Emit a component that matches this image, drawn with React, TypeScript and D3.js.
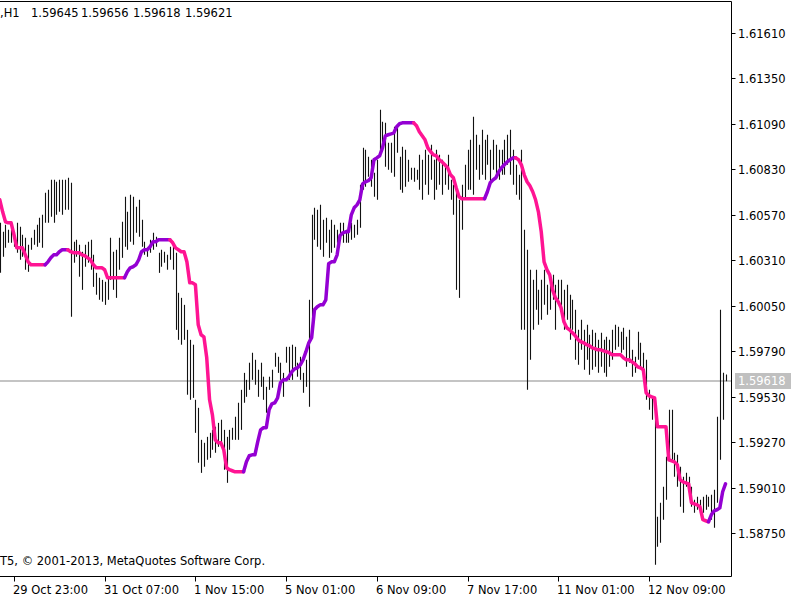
import React from 'react';
import * as d3 from 'd3';

// Bar highs (H1 bars, oldest -> newest)
const highs: number[] = [
  1.60524, 1.60473, 1.60513, 1.60484, 1.60484, 1.60473, 1.60524, 1.60502, 1.60456, 1.60439,
  1.60399, 1.60439, 1.60484, 1.60513, 1.60553, 1.60570, 1.60696, 1.60713, 1.60770, 1.60770,
  1.60759, 1.60770, 1.60770, 1.60770, 1.60782, 1.60753, 1.60416, 1.60427, 1.60399, 1.60359,
  1.60399, 1.60416, 1.60427, 1.60341, 1.60238, 1.60210, 1.60198, 1.60187, 1.60216, 1.60439,
  1.60359, 1.60370, 1.60439, 1.60530, 1.60673, 1.60587, 1.60685, 1.60673, 1.60616, 1.60656,
  1.60542, 1.60416, 1.60381, 1.60427, 1.60467, 1.60444, 1.60353, 1.60370, 1.60359, 1.60341,
  1.60387, 1.60399, 1.60353, 1.60124, 1.60095, 1.60055, 1.59912, 1.59855, 1.59827, 1.59512,
  1.59466, 1.59283, 1.59266, 1.59300, 1.59323, 1.59340, 1.59358, 1.59380, 1.59398, 1.59340,
  1.59300, 1.59340, 1.59352, 1.59415, 1.59495, 1.59569, 1.59666, 1.59626, 1.59724, 1.59781,
  1.59741, 1.59684, 1.59724, 1.59644, 1.59586, 1.59644, 1.59684, 1.59781, 1.59758, 1.59724,
  1.59666, 1.59815, 1.59815, 1.59827, 1.59815, 1.59724, 1.59758, 1.59666, 1.59741, 1.60084,
  1.60570, 1.60610, 1.60599, 1.60627, 1.60542, 1.60553, 1.60484, 1.60542, 1.60513, 1.60484,
  1.60524, 1.60524, 1.60484, 1.60502, 1.60524, 1.60513, 1.60542, 1.60742, 1.60953, 1.60942,
  1.60902, 1.60885, 1.60810, 1.60885, 1.61171, 1.61102, 1.61096, 1.60982, 1.60982, 1.61074,
  1.61074, 1.60902, 1.60959, 1.60942, 1.60885, 1.60839, 1.60839, 1.60828, 1.60913, 1.60885,
  1.60942, 1.60913, 1.60971, 1.60885, 1.60942, 1.60913, 1.60885, 1.60856, 1.60913, 1.60770,
  1.60742, 1.60713, 1.60656, 1.60742, 1.60856, 1.60942, 1.60999, 1.61131, 1.61028, 1.60971,
  1.61056, 1.60999, 1.61028, 1.60942, 1.60999, 1.60971, 1.60942, 1.60942, 1.60999, 1.61028,
  1.61056, 1.60942, 1.60856, 1.60799, 1.60942, 1.60484, 1.60370, 1.60256, 1.60198, 1.60256,
  1.60141, 1.60198, 1.60256, 1.60170, 1.60198, 1.60227, 1.60170, 1.60198, 1.60198, 1.60141,
  1.60170, 1.60113, 1.60084, 1.60027, 1.59912, 1.59970, 1.59912, 1.59941, 1.59884, 1.59912,
  1.59895, 1.59855, 1.59895, 1.59855, 1.59872, 1.59855, 1.59912, 1.59941, 1.59930, 1.59901,
  1.59924, 1.59872, 1.59912, 1.59798, 1.59758, 1.59901, 1.59838, 1.59781, 1.59741, 1.59569,
  1.59529, 1.59512, 1.58843, 1.58923, 1.59014, 1.59186, 1.59455, 1.59455, 1.59209, 1.59197,
  1.59129, 1.59072, 1.59094, 1.59072, 1.59014, 1.58940, 1.58957, 1.58940, 1.58957, 1.58969,
  1.58957, 1.58969, 1.58997, 1.59415, 1.60027, 1.59666, 1.59656,
];

// Bar lows
const lows: number[] = [
  1.60238, 1.60330, 1.60381, 1.60410, 1.60410, 1.60387, 1.60353, 1.60313, 1.60330, 1.60256,
  1.60244, 1.60370, 1.60399, 1.60387, 1.60410, 1.60381, 1.60524, 1.60524, 1.60559, 1.60524,
  1.60570, 1.60587, 1.60570, 1.60599, 1.60599, 1.59987, 1.60296, 1.60330, 1.60216, 1.60141,
  1.60273, 1.60296, 1.60256, 1.60158, 1.60113, 1.60084, 1.60073, 1.60055, 1.60084, 1.60198,
  1.60141, 1.60095, 1.60256, 1.60324, 1.60387, 1.60370, 1.60416, 1.60399, 1.60467, 1.60444,
  1.60387, 1.60341, 1.60330, 1.60353, 1.60370, 1.60387, 1.60238, 1.60273, 1.60296, 1.60256,
  1.60313, 1.60256, 1.59912, 1.59855, 1.59827, 1.59855, 1.59541, 1.59512, 1.59523, 1.59323,
  1.59152, 1.59094, 1.59129, 1.59169, 1.59180, 1.59226, 1.59209, 1.59243, 1.59266, 1.59112,
  1.59037, 1.59226, 1.59283, 1.59283, 1.59283, 1.59340, 1.59495, 1.59529, 1.59569, 1.59626,
  1.59598, 1.59529, 1.59586, 1.59512, 1.59438, 1.59569, 1.59581, 1.59701, 1.59666, 1.59626,
  1.59529, 1.59724, 1.59626, 1.59626, 1.59701, 1.59644, 1.59626, 1.59552, 1.59586, 1.59472,
  1.59970, 1.60427, 1.60387, 1.60370, 1.60330, 1.60410, 1.60324, 1.60353, 1.60381, 1.60410,
  1.60427, 1.60410, 1.60410, 1.60410, 1.60427, 1.60439, 1.60456, 1.60496, 1.60713, 1.60730,
  1.60788, 1.60730, 1.60673, 1.60656, 1.60902, 1.60959, 1.60845, 1.60828, 1.60810, 1.60788,
  1.60925, 1.60713, 1.60696, 1.60730, 1.60759, 1.60770, 1.60759, 1.60770, 1.60713, 1.60656,
  1.60742, 1.60685, 1.60770, 1.60656, 1.60713, 1.60742, 1.60685, 1.60742, 1.60713, 1.60656,
  1.60570, 1.60141, 1.60095, 1.60484, 1.60656, 1.60713, 1.60713, 1.60685, 1.60828, 1.60770,
  1.60799, 1.60770, 1.60856, 1.60742, 1.60828, 1.60799, 1.60770, 1.60799, 1.60799, 1.60856,
  1.60799, 1.60742, 1.60685, 1.60656, 1.59912, 1.59912, 1.59569, 1.59741, 1.59912, 1.60027,
  1.59941, 1.59970, 1.60055, 1.59998, 1.60027, 1.60084, 1.59912, 1.60084, 1.60027, 1.59912,
  1.59970, 1.59855, 1.59912, 1.59741, 1.59712, 1.59798, 1.59684, 1.59741, 1.59655, 1.59684,
  1.59701, 1.59666, 1.59701, 1.59666, 1.59644, 1.59701, 1.59741, 1.59798, 1.59815, 1.59781,
  1.59798, 1.59701, 1.59724, 1.59644, 1.59666, 1.59741, 1.59701, 1.59672, 1.59512, 1.59455,
  1.59398, 1.58568, 1.58671, 1.58694, 1.58826, 1.58940, 1.59186, 1.59169, 1.59072, 1.59014,
  1.58900, 1.58866, 1.59014, 1.58980, 1.58900, 1.58866, 1.58883, 1.58866, 1.58866, 1.58883,
  1.58900, 1.58826, 1.58780, 1.58923, 1.59169, 1.59398, 1.59618,
];

// Indicator line values
const lineValues: number[] = [
  1.60656, 1.60587, 1.60530, 1.60524, 1.60524, 1.60456, 1.60381, 1.60381, 1.60381, 1.60341,
  1.60301, 1.60284, 1.60284, 1.60284, 1.60284, 1.60284, 1.60284, 1.60301, 1.60324, 1.60341,
  1.60341, 1.60359, 1.60370, 1.60370, 1.60370, 1.60359, 1.60353, 1.60353, 1.60353, 1.60341,
  1.60336, 1.60324, 1.60313, 1.60284, 1.60267, 1.60267, 1.60267, 1.60256, 1.60210, 1.60210,
  1.60210, 1.60210, 1.60210, 1.60210, 1.60210, 1.60244, 1.60267, 1.60273, 1.60284, 1.60313,
  1.60359, 1.60370, 1.60370, 1.60387, 1.60416, 1.60416, 1.60427, 1.60427, 1.60427, 1.60427,
  1.60427, 1.60410, 1.60381, 1.60370, 1.60359, 1.60359, 1.60301, 1.60181, 1.60181, 1.60170,
  1.59941, 1.59884, 1.59872, 1.59752, 1.59512, 1.59426, 1.59283, 1.59266, 1.59266, 1.59226,
  1.59123, 1.59112, 1.59106, 1.59100, 1.59100, 1.59100, 1.59100, 1.59157, 1.59192, 1.59197,
  1.59197, 1.59272, 1.59340, 1.59352, 1.59352, 1.59455, 1.59489, 1.59495, 1.59523, 1.59609,
  1.59626, 1.59626, 1.59644, 1.59672, 1.59689, 1.59695, 1.59712, 1.59741, 1.59787, 1.59838,
  1.59867, 1.60027, 1.60044, 1.60055, 1.60055, 1.60084, 1.60290, 1.60301, 1.60301, 1.60341,
  1.60450, 1.60467, 1.60473, 1.60473, 1.60570, 1.60610, 1.60627, 1.60656, 1.60747, 1.60759,
  1.60765, 1.60782, 1.60885, 1.60896, 1.60908, 1.60953, 1.61022, 1.61028, 1.61033, 1.61039,
  1.61074, 1.61091, 1.61096, 1.61096, 1.61096, 1.61096, 1.61096, 1.61079, 1.61045, 1.61022,
  1.60999, 1.60953, 1.60931, 1.60913, 1.60908, 1.60885, 1.60873, 1.60856, 1.60839, 1.60799,
  1.60782, 1.60725, 1.60673, 1.60662, 1.60662, 1.60662, 1.60662, 1.60662, 1.60662, 1.60662,
  1.60662, 1.60662, 1.60702, 1.60753, 1.60770, 1.60782, 1.60816, 1.60839, 1.60856, 1.60873,
  1.60885, 1.60896, 1.60896, 1.60885, 1.60856, 1.60799, 1.60759, 1.60736, 1.60702, 1.60656,
  1.60587, 1.60473, 1.60301, 1.60256, 1.60227, 1.60141, 1.60095, 1.60073, 1.60038, 1.59958,
  1.59924, 1.59912, 1.59895, 1.59878, 1.59855, 1.59844, 1.59838, 1.59827, 1.59821, 1.59809,
  1.59804, 1.59798, 1.59798, 1.59792, 1.59787, 1.59781, 1.59769, 1.59769, 1.59769, 1.59769,
  1.59752, 1.59741, 1.59741, 1.59729, 1.59718, 1.59701, 1.59695, 1.59684, 1.59552, 1.59535,
  1.59529, 1.59523, 1.59358, 1.59358, 1.59358, 1.59358, 1.59169, 1.59163, 1.59157, 1.59140,
  1.59054, 1.59043, 1.59037, 1.59031, 1.58923, 1.58917, 1.58911, 1.58900, 1.58826, 1.58820,
  1.58814, 1.58854, 1.58877, 1.58883, 1.58894, 1.58986, 1.59031,
];

// Colour runs of the indicator line: [first bar, last bar, colour index]
const trendRuns: [number, number, number][] = [
  [0, 16, 0], [17, 24, 1], [25, 44, 0], [45, 60, 1], [61, 86, 0],
  [87, 146, 1], [147, 171, 0], [172, 182, 1], [183, 250, 0], [251, 256, 1],
];
const trendColors = ['#FF1493', '#9400D3'];

const yTicks = [1.6161, 1.6135, 1.6109, 1.6083, 1.6057, 1.6031, 1.6005, 1.5979, 1.5953, 1.5927, 1.5901, 1.5875];
const xTickIndex = [5, 37, 69, 101, 133, 165, 197, 229];
const xTickLabels = ['29 Oct 23:00', '31 Oct 07:00', '1 Nov 15:00', '5 Nov 01:00', '6 Nov 09:00', '7 Nov 17:00', '11 Nov 01:00', '12 Nov 09:00'];
const headerValues = ['1.59645', '1.59656', '1.59618', '1.59621'];
const headerX = [31, 81, 133, 185];
const bidPrice = 1.59618;

const FONT = "'DejaVu Sans', Verdana, sans-serif";
const FS = 11.5;

export default function App() {
  const W = 800;
  const H = 600;
  const plotRight = 731.5;
  const plotTop = 1.5;
  const plotBottom = 576.5;

  const x = d3.scaleLinear().domain([0, highs.length - 1]).range([-0.2, 725.5]);
  const y = d3.scaleLinear().domain([1.5875, 1.6161]).range([533, 33]);

  const line = d3
    .line<number>()
    .x((i) => x(i))
    .y((i) => y(lineValues[i]));

  const bidY = Math.round(y(bidPrice));

  return (
    <div style={{ position: 'absolute', left: 0, top: 0, width: W, height: H, background: '#fff' }}>
      <svg width={W} height={H} style={{ display: 'block' }} fontFamily={FONT}>
        <rect x={0} y={0} width={W} height={H} fill="#fff" />
        <defs>
          <clipPath id="plot">
            <rect x={0} y={plotTop} width={plotRight} height={plotBottom - plotTop} />
          </clipPath>
        </defs>

        {/* bid line */}
        <line x1={0} x2={plotRight} y1={bidY} y2={bidY} stroke="#c4c4c4" strokeWidth={2} />

        {/* bars */}
        <g clipPath="url(#plot)">
          {highs.map((h, i) => {
            const bx = Math.round(x(i)) + 0.5;
            return (
              <line key={i} x1={bx} x2={bx} y1={y(h)} y2={y(lows[i])} stroke="#111" strokeWidth={1.1} />
            );
          })}
          {trendRuns.map(([s, e, c], k) => {
            const idx = d3.range(Math.max(0, s - 1), e + 1);
            return (
              <path
                key={k}
                d={line(idx) || ''}
                fill="none"
                stroke={trendColors[c]}
                strokeWidth={3.5}
                strokeLinejoin="round"
                strokeLinecap="round"
              />
            );
          })}
        </g>

        {/* frame */}
        <line x1={0} x2={plotRight} y1={plotTop} y2={plotTop} stroke="#000" />
        <line x1={plotRight} x2={plotRight} y1={plotTop} y2={plotBottom} stroke="#000" />
        <line x1={0} x2={plotRight} y1={plotBottom} y2={plotBottom} stroke="#000" />

        {/* y axis */}
        {yTicks.map((t) => {
          const ty = Math.round(y(t)) + 0.5;
          return (
            <g key={t}>
              <line x1={plotRight} x2={plotRight + 4} y1={ty} y2={ty} stroke="#000" />
              <text x={738} y={ty} dy="0.35em" fontSize={FS} fill="#000">
                {t.toFixed(5)}
              </text>
            </g>
          );
        })}
        <rect x={735} y={bidY - 8} width={56} height={16} fill="#c0c0c0" />
        <text x={738} y={bidY} dy="0.35em" fontSize={FS} fill="#fff">
          {bidPrice.toFixed(5)}
        </text>

        {/* x axis */}
        {xTickIndex.map((ti, k) => {
          const tx = Math.round(x(ti)) + 0.5;
          return (
            <g key={ti}>
              <line x1={tx} x2={tx} y1={plotBottom} y2={plotBottom + 5} stroke="#000" />
              <text x={tx - 1.5} y={594} fontSize={FS} fill="#000">
                {xTickLabels[k]}
              </text>
            </g>
          );
        })}

        {/* header */}
        <text x={0} y={17} fontSize={FS} fill="#000">,H1</text>
        {headerValues.map((v, k) => (
          <text key={k} x={headerX[k]} y={17} fontSize={FS} fill="#000">
            {v}
          </text>
        ))}

        {/* copyright */}
        <text x={0} y={565} fontSize={FS} fill="#000">
          T5, © 2001-2013, MetaQuotes Software Corp.
        </text>
      </svg>
    </div>
  );
}
